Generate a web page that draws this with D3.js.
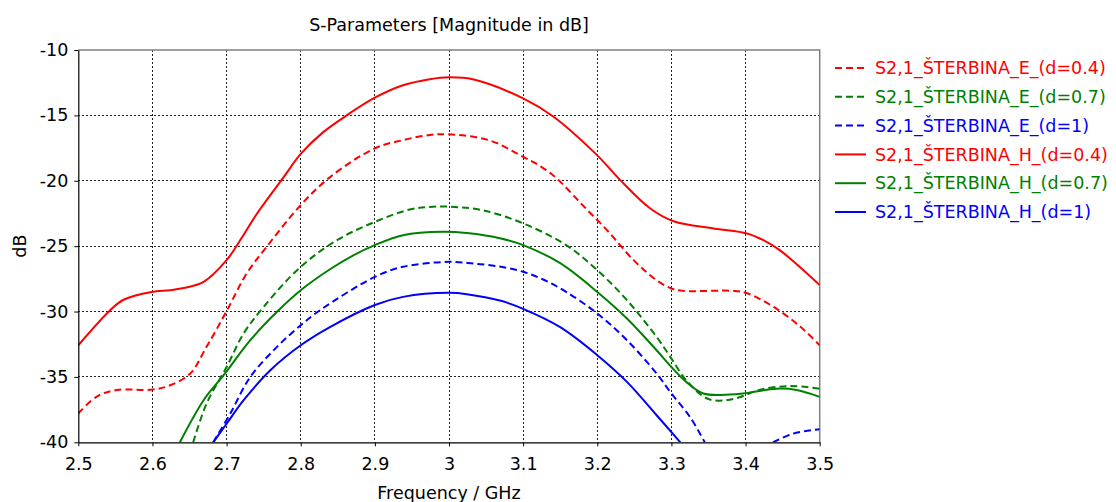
<!DOCTYPE html>
<html>
<head>
<meta charset="utf-8">
<script src="https://cdn.jsdelivr.net/npm/d3@7"></script>
<style>
  html, body { margin: 0; padding: 0; background: #fff; }
  svg { display: block; font-family: "DejaVu Sans", Verdana, sans-serif; }
</style>
</head>
<body>
<svg id="chart" width="1116" height="502"></svg>
<script>
// S2,1 magnitude traces, [frequency GHz, dB]; null marks a gap below the axis floor
const s21_E_04 = [[2.5,-37.8],[2.525,-36.5],[2.552,-36.0],[2.6,-35.97],[2.624,-35.64],[2.651,-34.74],[2.673,-32.7],[2.70,-29.97],[2.727,-27.1],[2.754,-25.05],[2.80,-21.86],[2.84,-19.7],[2.90,-17.52],[2.938,-16.89],[2.974,-16.5],[3.0,-16.45],[3.054,-16.9],[3.10,-18.17],[3.125,-18.95],[3.145,-19.8],[3.18,-21.85],[3.213,-23.77],[3.249,-26.07],[3.28,-27.6],[3.30,-28.24],[3.316,-28.42],[3.384,-28.42],[3.402,-28.6],[3.438,-29.65],[3.474,-31.17],[3.5,-32.58]];
const s21_E_07 = [[2.655,-40],[2.673,-37.04],[2.70,-34.24],[2.723,-31.68],[2.75,-29.64],[2.80,-26.58],[2.849,-24.54],[2.90,-23.14],[2.947,-22.2],[2.974,-22.0],[3.0,-21.98],[3.045,-22.25],[3.10,-23.26],[3.158,-24.92],[3.2,-26.84],[3.24,-29.13],[3.28,-31.94],[3.30,-33.6],[3.32,-35.26],[3.348,-36.65],[3.372,-36.8],[3.393,-36.53],[3.42,-35.97],[3.46,-35.7],[3.5,-35.9]];
const s21_E_1 = [[2.682,-40],[2.705,-37.8],[2.732,-35.0],[2.768,-32.7],[2.80,-31.05],[2.826,-29.9],[2.90,-27.35],[2.938,-26.58],[3.0,-26.2],[3.033,-26.33],[3.07,-26.58],[3.10,-26.96],[3.127,-27.55],[3.158,-28.5],[3.2,-30.15],[3.24,-32.19],[3.28,-34.74],[3.30,-36.27],[3.325,-38.06],[3.345,-40],null,[3.437,-40],[3.464,-39.34],[3.5,-39.0]];
const s21_H_04 = [[2.5,-32.58],[2.543,-29.9],[2.561,-29.1],[2.599,-28.5],[2.624,-28.37],[2.642,-28.2],[2.669,-27.73],[2.70,-26.07],[2.72,-24.4],[2.74,-22.6],[2.776,-19.8],[2.80,-17.95],[2.83,-16.3],[2.862,-15.0],[2.90,-13.65],[2.938,-12.7],[2.974,-12.24],[3.0,-12.09],[3.032,-12.24],[3.10,-13.7],[3.141,-15.1],[3.199,-18.0],[3.231,-19.95],[3.271,-22.1],[3.303,-23.1],[3.357,-23.65],[3.402,-24.03],[3.424,-24.54],[3.446,-25.3],[3.5,-27.98]];
const s21_H_07 = [[2.637,-40],[2.669,-36.78],[2.696,-34.87],[2.732,-32.19],[2.768,-30.02],[2.80,-28.37],[2.84,-26.75],[2.871,-25.7],[2.90,-24.92],[2.938,-24.16],[2.992,-23.9],[3.024,-24.0],[3.07,-24.41],[3.10,-24.92],[3.15,-26.3],[3.2,-28.5],[3.24,-30.53],[3.28,-32.96],[3.30,-34.24],[3.32,-35.38],[3.343,-36.27],[3.379,-36.35],[3.402,-36.22],[3.442,-35.9],[3.469,-36.0],[3.5,-36.53]];
const s21_H_1 = [[2.682,-40],[2.70,-38.58],[2.723,-36.78],[2.759,-34.49],[2.80,-32.58],[2.84,-31.17],[2.90,-29.5],[2.938,-28.88],[3.0,-28.57],[3.024,-28.67],[3.07,-29.18],[3.10,-29.8],[3.15,-31.2],[3.2,-33.34],[3.24,-35.38],[3.28,-37.93],[3.312,-40]];

const seriesNames = [
  "S2,1_ŠTERBINA_E_(d=0.4)",
  "S2,1_ŠTERBINA_E_(d=0.7)",
  "S2,1_ŠTERBINA_E_(d=1)",
  "S2,1_ŠTERBINA_H_(d=0.4)",
  "S2,1_ŠTERBINA_H_(d=0.7)",
  "S2,1_ŠTERBINA_H_(d=1)"
];
const seriesData = [s21_E_04, s21_E_07, s21_E_1, s21_H_04, s21_H_07, s21_H_1];
const seriesColors = ["#ff0000", "#008000", "#0000ff", "#ff0000", "#008000", "#0000ff"];
const seriesDashed = [true, true, true, false, false, false];

const xTicks = [2.5, 2.6, 2.7, 2.8, 2.9, 3, 3.1, 3.2, 3.3, 3.4, 3.5];
const yTicks = [-10, -15, -20, -25, -30, -35, -40];

const titleText = "S-Parameters [Magnitude in dB]";
const xLabelText = "Frequency / GHz";
const yLabelText = "dB";

const FONT = "17.5px";
const svg = d3.select("#chart");
const plot = { left: 78.3, right: 819.7, top: 50, bottom: 442.3 };

const x = d3.scaleLinear().domain([2.5, 3.5]).range([plot.left, plot.right]);
const y = d3.scaleLinear().domain([-40, -10]).range([plot.bottom, plot.top]);

// dotted grid
const grid = svg.append("g").attr("stroke", "#222").attr("stroke-width", 1)
  .attr("stroke-dasharray", "2,2").attr("shape-rendering", "crispEdges");
grid.selectAll("line.gx").data(xTicks.slice(1, -1)).join("line")
  .attr("x1", d => x(d)).attr("x2", d => x(d))
  .attr("y1", plot.top).attr("y2", plot.bottom);
grid.selectAll("line.gy").data(yTicks.slice(1, -1)).join("line")
  .attr("x1", plot.left).attr("x2", plot.right)
  .attr("y1", d => y(d)).attr("y2", d => y(d));

// top / right frame
svg.append("path")
  .attr("d", `M${plot.left},${plot.top}H${plot.right}V${plot.bottom}`)
  .attr("fill", "none").attr("stroke", "#808080").attr("stroke-width", 1.5);

// traces, clipped to the plot area
svg.append("clipPath").attr("id", "plotClip").append("rect")
  .attr("x", plot.left).attr("y", plot.top)
  .attr("width", plot.right - plot.left).attr("height", plot.bottom - plot.top);

const line = d3.line()
  .defined(d => d != null)
  .x(d => x(d[0])).y(d => y(d[1]))
  .curve(d3.curveCatmullRom.alpha(0.5));

const traces = svg.append("g").attr("clip-path", "url(#plotClip)");
seriesData.forEach((data, i) => {
  traces.append("path")
    .attr("d", line(data))
    .attr("fill", "none")
    .attr("stroke", seriesColors[i])
    .attr("stroke-width", 2)
    .attr("stroke-dasharray", seriesDashed[i] ? "7,4" : null)
    .attr("stroke-linejoin", "round");
});

// axes
const fmt = d => String(d);
const xAxis = svg.append("g").attr("transform", `translate(0,${plot.bottom})`)
  .call(d3.axisBottom(x).tickValues(xTicks).tickFormat(fmt).tickSizeOuter(0).tickSizeInner(4).tickPadding(11));
const yAxis = svg.append("g").attr("transform", `translate(${plot.left},0)`)
  .call(d3.axisLeft(y).tickValues(yTicks).tickFormat(fmt).tickSizeOuter(0).tickSizeInner(4).tickPadding(6));
[xAxis, yAxis].forEach(g => {
  g.selectAll(".domain").attr("stroke", "#000").attr("stroke-width", 1.2);
  g.selectAll(".tick line").attr("stroke", "#000");
  g.selectAll("text").attr("fill", "#000").style("font-size", FONT)
    .style("font-family", "'DejaVu Sans', Verdana, sans-serif");
});

// titles
const midX = (plot.left + plot.right) / 2;
svg.append("text").attr("x", midX).attr("y", 31).attr("text-anchor", "middle")
  .style("font-size", FONT).text(titleText);
svg.append("text").attr("x", midX).attr("y", 499).attr("text-anchor", "middle")
  .style("font-size", FONT).text(xLabelText);
svg.append("text").attr("transform", `translate(26,${(plot.top + plot.bottom) / 2}) rotate(-90)`)
  .attr("text-anchor", "middle").style("font-size", FONT).text(yLabelText);

// legend
const legend = svg.append("g").attr("transform", "translate(835,68)");
const item = legend.selectAll("g").data(seriesNames).join("g")
  .attr("transform", (d, i) => `translate(0,${i * 28.8})`);
item.append("line")
  .attr("x1", 0).attr("x2", 31).attr("y1", 0).attr("y2", 0)
  .attr("stroke", (d, i) => seriesColors[i]).attr("stroke-width", 2)
  .attr("stroke-dasharray", (d, i) => seriesDashed[i] ? "7,4" : null);
item.append("text")
  .attr("x", 40).attr("y", 0).attr("dy", "0.35em")
  .attr("fill", (d, i) => seriesColors[i])
  .style("font-size", FONT).text(d => d);
</script>
</body>
</html>
